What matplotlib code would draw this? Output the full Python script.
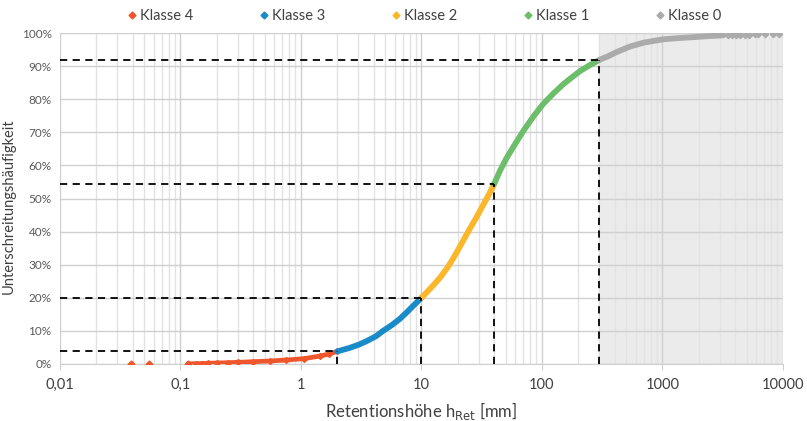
import matplotlib
matplotlib.use("Agg")
from matplotlib import pyplot as plt
from matplotlib.ticker import PercentFormatter, FixedLocator, NullFormatter
from matplotlib.lines import Line2D

plt.rcParams['font.family'] = ['Lato', 'DejaVu Sans']

# ---------------------------- Daten ------------------------------------------
# Klasse 4 (vereinzelte Punkte am Anfang, danach dicht)
k4_x = [0.039, 0.055, 0.116, 0.135, 0.15, 0.17, 0.2, 0.25, 0.3, 0.4, 0.55, 0.75, 1.05, 1.44, 1.7, 2.0]
k4_y = [0.0, 0.0, 0.05, 0.1, 0.15, 0.2, 0.3, 0.4, 0.5, 0.7, 0.9, 1.2, 1.6, 2.4, 3.0, 3.8]

k3_x = [2.0, 2.5, 3.0, 3.5, 4.2, 4.8, 5.7, 6.6, 7.5, 8.5, 10]
k3_y = [3.8, 4.8, 5.8, 6.9, 8.4, 10.0, 11.8, 13.6, 15.5, 17.5, 20.0]

k2_x = [10, 12, 14.2, 16.5, 18.4, 20.5, 22.9, 25.5, 28.7, 32, 36, 40]
k2_y = [20.0, 23.0, 26.0, 29.2, 32.0, 35.0, 38.2, 41.2, 44.4, 47.6, 51.0, 54.3]

k1_x = [40, 45, 51, 60, 70, 85, 102, 125, 150, 180, 207, 250, 297]
k1_y = [54.3, 58.5, 62.3, 66.5, 70.4, 74.8, 78.5, 81.8, 84.5, 86.8, 88.5, 90.3, 91.8]

k0_x = [300, 350, 420, 537, 700, 1016, 1400, 1900, 2500, 3200]
k0_y = [91.9, 92.9, 94.3, 95.9, 97.1, 98.1, 98.5, 98.8, 99.1, 99.3]
# vereinzelte Punkte am Ende
k0_sx = [3500, 3800, 4100, 4400, 4840, 5200, 5860, 6200, 7100, 8270, 9270]
k0_sy = [99.4, 99.4, 99.45, 99.45, 99.5, 99.5, 99.55, 99.55, 99.6, 99.65, 99.7]

# Klassengrenzen (Retentionshoehe, Unterschreitungshaeufigkeit)
grenz_x = [2, 10, 40, 300]
grenz_y = [3.8, 20.0, 54.3, 91.8]

labels = ["Klasse 4", "Klasse 3", "Klasse 2", "Klasse 1", "Klasse 0"]
colors = ["#F0562B", "#1A8BC9", "#FBB62A", "#6DBE6A", "#ABABAB"]
xticks = [0.01, 0.1, 1, 10, 100, 1000, 10000]
xtick_labels = ["0,01", "0,1", "1", "10", "100", "1000", "10000"]

# ---------------------------- Plot -------------------------------------------
fig = plt.figure(figsize=(8.07, 4.21), dpi=100)
ax = fig.add_axes([0.0743, 0.1354, 0.8959, 0.7862])

ax.set_xscale("log")
ax.set_xlim(0.01, 10000)
ax.set_ylim(0, 1)

# grauer Bereich (Klasse 0)
ax.axvspan(300, 10000, color="#EBEBEB", zorder=0, lw=0)

# Gitter
ax.xaxis.set_major_locator(FixedLocator(xticks))
minor = [m * d for d in xticks[:-1] for m in range(2, 10)]
ax.xaxis.set_minor_locator(FixedLocator(minor))
ax.xaxis.set_minor_formatter(NullFormatter())
ax.set_xticklabels(xtick_labels)
ax.set_yticks([i / 10 for i in range(11)])
ax.yaxis.set_major_formatter(PercentFormatter(1.0, decimals=0))
ax.grid(which="major", axis="both", color="#CFCFCF", lw=1.0, zorder=1)
ax.grid(which="minor", axis="x", color="#E2E2E2", lw=1.0, zorder=1)
ax.set_axisbelow(True)

for s in ["top", "right", "left"]:
    ax.spines[s].set_visible(False)
ax.spines["bottom"].set_color("#CFCFCF")
ax.tick_params(axis="x", which="major", length=4, color="#CFCFCF", labelsize=10.5,
               labelcolor="#404040", pad=6)
ax.tick_params(axis="x", which="minor", length=0)
ax.tick_params(axis="y", length=0, labelsize=8.5, labelcolor="#595959", pad=6)

# Kurve
series = [(k4_x, k4_y), (k3_x, k3_y), (k2_x, k2_y), (k1_x, k1_y), (k0_x, k0_y)]
for i, (xs, ys) in enumerate(series):
    yv = [v / 100 for v in ys]
    if i == 0:
        ax.plot(xs[:3], yv[:3], ls="none", marker="D", ms=3.5, color=colors[i], zorder=3)
        ax.plot(xs[2:], yv[2:], lw=3.4, marker="D", ms=3, color=colors[i], zorder=3,
                solid_capstyle="round", solid_joinstyle="round")
    else:
        ax.plot(xs, yv, lw=4.2, color=colors[i], zorder=3, solid_capstyle="round",
                solid_joinstyle="round")
ax.plot(k0_sx, [v / 100 for v in k0_sy], ls="none", marker="D", ms=3.2, color=colors[4], zorder=3)

# Klassengrenzen gestrichelt
for gx, gy in zip(grenz_x, grenz_y):
    ax.plot([0.01, gx], [gy / 100, gy / 100], color="black", lw=1.3, ls=(0, (4, 3)), zorder=4)
    ax.plot([gx, gx], [0, gy / 100], color="black", lw=1.3, ls=(0, (4, 3)), zorder=4,
            clip_on=False)

ax.set_xlabel("Retentionshöhe h$_{\\mathrm{Ret}}$ [mm]", fontsize=12, color="#404040", labelpad=6)
ax.set_ylabel("Unterschreitungshäufigkeit", fontsize=10.5, color="#404040")
ax.yaxis.set_label_coords(-0.061, 0.477)

handles = [Line2D([], [], ls="none", marker="D", ms=3.5, color=c) for c in colors]
fig.legend(handles, labels, loc="upper center", bbox_to_anchor=(0.524, 1.01), ncol=5,
           frameon=False, fontsize=10.5, handletextpad=0.1, columnspacing=4.3,
           labelcolor="#404040", handlelength=1.0)

fig.savefig("out.png", dpi=100)
